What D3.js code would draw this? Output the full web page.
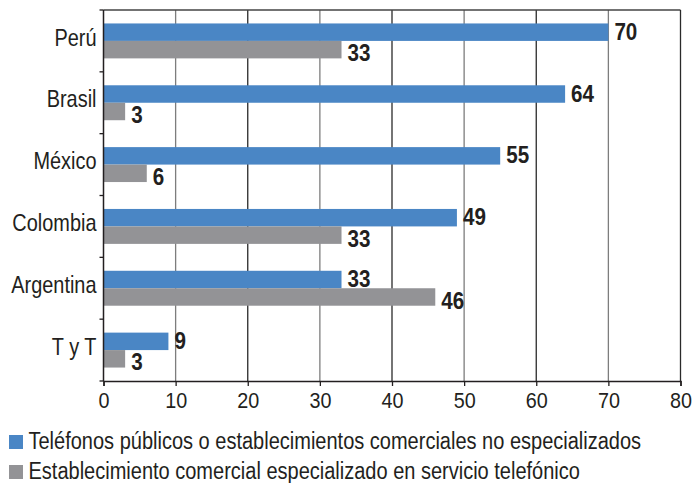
<!DOCTYPE html>
<html>
<head>
<meta charset="utf-8">
<script src="https://cdn.jsdelivr.net/npm/d3@7"></script>
<style>
  html, body { margin: 0; padding: 0; background: #fff; }
  svg { display: block; }
  text { font-family: "Liberation Sans", Arial, Helvetica, sans-serif; fill: #231f20; }
  .val { font-weight: bold; }
</style>
</head>
<body>
<svg id="chart" width="693" height="483"></svg>
<script>
// Countries (top to bottom)
const categories = ["Perú", "Brasil", "México", "Colombia", "Argentina", "T y T"];
// Series values (%)
const publicPhones = [70, 64, 55, 49, 33, 9];
const specializedShops = [33, 3, 6, 33, 46, 3];
const seriesNames = [
  "Teléfonos públicos o establecimientos comerciales no especializados",
  "Establecimiento comercial especializado en servicio telefónico"
];
const seriesColors = ["#4a86c5", "#939396"];
const xTicks = [0, 10, 20, 30, 40, 50, 60, 70, 80];

const svg = d3.select("#chart");
const m = { left: 103.5, right: 680.5, top: 10, bottom: 381 };

// Place a horizontally condensed text at (x, y)
function condensed(sel, x, y, sx) {
  return sel.attr("x", 0).attr("y", 0)
    .attr("transform", (d, i) => `translate(${x(d, i)},${y(d, i)}) scale(${sx},1)`);
}

const x = d3.scaleLinear().domain([0, 80]).range([m.left, m.right]);
const y0 = d3.scaleBand().domain(categories).range([m.top, m.bottom]).padding(0);
const y1 = d3.scaleBand().domain([0, 1]).range([0, y0.bandwidth()])
  .paddingInner(0).paddingOuter(0.77);

// Vertical gridlines
svg.append("g").selectAll("line")
  .data(xTicks.filter(d => d > 0 && d < 80))
  .join("line")
  .attr("x1", d => x(d)).attr("x2", d => x(d))
  .attr("y1", m.top).attr("y2", m.bottom)
  .attr("stroke", (d, i) => i % 2 === 0 ? "#7d7d7d" : "#2a2a2a")
  .attr("stroke-width", 1.3);

// Frame: top and right edges
svg.append("line").attr("x1", m.left).attr("x2", m.right)
  .attr("y1", m.top).attr("y2", m.top).attr("stroke", "#444").attr("stroke-width", 1.5);
svg.append("line").attr("x1", m.right).attr("x2", m.right)
  .attr("y1", m.top).attr("y2", m.bottom).attr("stroke", "#2a2a2a").attr("stroke-width", 1.3);

// Bars
const rows = categories.map((c, i) => ({ c, v: [publicPhones[i], specializedShops[i]] }));
const groups = svg.append("g").selectAll("g").data(rows).join("g")
  .attr("transform", d => `translate(0,${y0(d.c)})`);

groups.selectAll("rect")
  .data(d => d.v.map((v, k) => ({ v, k })))
  .join("rect")
  .attr("x", x(0))
  .attr("y", d => y1(d.k))
  .attr("width", d => x(d.v) - x(0))
  .attr("height", y1.bandwidth())
  .attr("fill", d => seriesColors[d.k]);

groups.selectAll("text.val")
  .data(d => d.v.map((v, k) => ({ v, k })))
  .join("text")
  .attr("class", "val")
  .call(condensed,
        d => x(d.v) + 6,
        d => y1(d.k) + y1.bandwidth() / 2 + (d.k === 0 ? -1 : 3),
        0.86)
  .attr("dy", "0.36em")
  .attr("font-size", 24)
  .text(d => d.v);

// Left axis with ticks at category boundaries
const yAxis = svg.append("g");
yAxis.append("line").attr("x1", m.left).attr("x2", m.left)
  .attr("y1", m.top).attr("y2", m.bottom).attr("stroke", "#231f20").attr("stroke-width", 1.5);
const bounds = categories.map(c => y0(c)).concat([m.bottom]);
yAxis.selectAll("line.tk").data(bounds).join("line").attr("class", "tk")
  .attr("x1", m.left - 4).attr("x2", m.left)
  .attr("y1", d => d).attr("y2", d => d)
  .attr("stroke", "#231f20").attr("stroke-width", 1.3);
yAxis.selectAll("text").data(categories).join("text")
  .call(condensed, () => m.left - 7, d => y0(d) + y0.bandwidth() / 2 - 4, 0.83)
  .attr("dy", "0.36em")
  .attr("text-anchor", "end")
  .attr("font-size", 24)
  .text(d => d);

// Bottom axis
const xAxis = svg.append("g").attr("transform", `translate(0,${m.bottom})`)
  .call(d3.axisBottom(x).tickValues(xTicks).tickSize(5).tickPadding(6));
xAxis.select(".domain").attr("stroke", "#231f20").attr("stroke-width", 1.5);
xAxis.selectAll(".tick line").attr("stroke", "#231f20").attr("stroke-width", 1.3);
xAxis.selectAll(".tick text")
  .attr("font-size", 22)
  .attr("transform", "scale(0.9,1)")
  .attr("font-family", "Liberation Sans, Arial, sans-serif")
  .attr("fill", "#231f20");

// Legend
const legend = svg.append("g").selectAll("g").data(seriesNames).join("g")
  .attr("transform", (d, i) => `translate(9,${435 + i * 30})`);
legend.append("rect").attr("width", 14).attr("height", 14)
  .attr("fill", (d, i) => seriesColors[i]);
legend.append("text")
  .call(condensed, () => 19.5, () => 14, 0.87)
  .attr("font-size", 23).text(d => d);
</script>
</body>
</html>
